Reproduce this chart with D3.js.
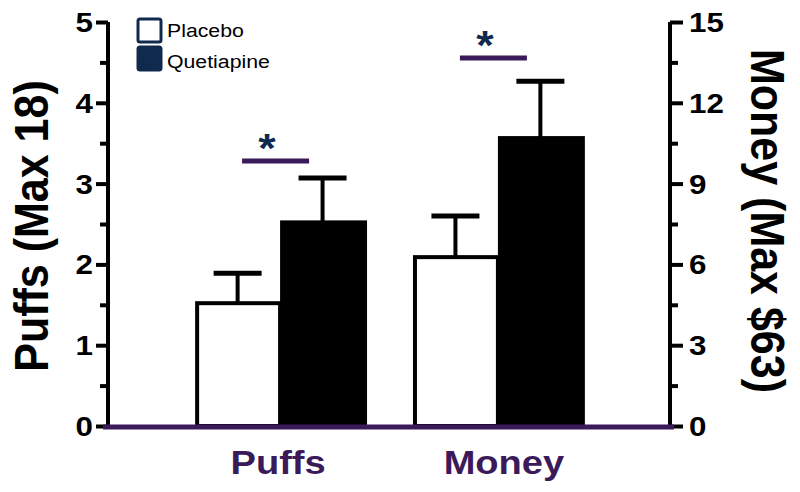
<!DOCTYPE html>
<html>
<head>
<meta charset="utf-8">
<script src="https://cdn.jsdelivr.net/npm/d3@7"></script>
<style>
  body { margin: 0; background: #fff; }
  svg { display: block; font-family: "Liberation Sans", Arial, sans-serif; }
</style>
</head>
<body>
<script>
// measures, Puffs on the left axis, Money on the right
var categories = ["Puffs", "Money"];
var groups = ["Placebo", "Quetiapine"];
var placeboMean = [1.52, 6.27];
var placeboUpper = [1.89, 7.8];
var quetiapineMean = [2.52, 10.69];
var quetiapineUpper = [3.07, 12.8];
// significance bars: height in the measure's own units
var sigLevel = [3.28, 13.66];
var leftTicks = [0, 1, 2, 3, 4, 5];
var rightTicks = [0, 3, 6, 9, 12, 15];

var W = 800, H = 492;
var purple = "#3b1a5a", navy = "#0f2a4c";
var stretch = 1.12; // the figure is a bit wider than tall

var svg = d3.select("body").append("svg").attr("width", W).attr("height", H);

var x0 = d3.scaleBand().domain(categories).range([108, 670]).paddingInner(0.22).paddingOuter(0.4);
var x1 = d3.scaleBand().domain(groups).range([0, x0.bandwidth()]);
var yL = d3.scaleLinear().domain([0, 5]).range([426, 22]);
var yR = d3.scaleLinear().domain([0, 15]).range([426, 22]);
function yFor(cat) { return cat === "Puffs" ? yL : yR; }

// text helper: wide glyphs like in the original
function label(txt, x, y, rot, size, opts) {
    opts = opts || {};
    var g = svg.append("g").attr("transform", "translate(" + x + "," + y + ") rotate(" + rot + ")");
    var sc = rot === 0 ? "scale(" + stretch + ",1)" : "scale(1," + stretch + ")";
    g.append("text").attr("transform", sc)
        .attr("text-anchor", opts.anchor || "middle")
        .attr("font-size", size)
        .attr("font-weight", opts.weight || "bold")
        .attr("fill", opts.fill || "#000")
        .text(txt);
}

// bars
var rows = [];
categories.forEach(function(c, i) {
    rows.push({cat: c, grp: "Placebo", mean: placeboMean[i], up: placeboUpper[i]});
    rows.push({cat: c, grp: "Quetiapine", mean: quetiapineMean[i], up: quetiapineUpper[i]});
});

var bw = x1.bandwidth();
// error bars (drawn first so bars cover the stem base)
rows.forEach(function(d) {
    var cx = x0(d.cat) + x1(d.grp) + bw / 2;
    var y = yFor(d.cat);
    svg.append("line").attr("x1", cx).attr("x2", cx).attr("y1", y(d.mean)).attr("y2", y(d.up))
        .attr("stroke", "#000").attr("stroke-width", 4);
    svg.append("line").attr("x1", cx - 24).attr("x2", cx + 24).attr("y1", y(d.up)).attr("y2", y(d.up))
        .attr("stroke", "#000").attr("stroke-width", 5);
});
rows.forEach(function(d) {
    var y = yFor(d.cat);
    svg.append("rect")
        .attr("x", x0(d.cat) + x1(d.grp) + 2)
        .attr("y", y(d.mean))
        .attr("width", bw - 2)
        .attr("height", y(0) - y(d.mean))
        .attr("fill", d.grp === "Placebo" ? "#fff" : "#000")
        .attr("stroke", "#000").attr("stroke-width", 4);
});

// left axis: long major ticks, short minor ones
var axL = svg.append("g").attr("transform", "translate(108,0)");
axL.call(d3.axisLeft(yL).tickValues(d3.range(0, 5.01, 0.5)).tickSize(8).tickFormat(""));
axL.selectAll(".tick line").attr("stroke-width", 4)
    .attr("x2", function(d) { return d % 1 === 0 ? -12 : -8; });
axL.select(".domain").attr("d", "M0," + yL(5) + "V" + yL(0)).attr("stroke-width", 4);
leftTicks.forEach(function(t) { label(t, 93, yL(t) + 10, 0, 28, {anchor: "end"}); });

// right axis
var axR = svg.append("g").attr("transform", "translate(670,0)");
axR.call(d3.axisRight(yR).tickValues(d3.range(0, 15.01, 1.5)).tickSize(8).tickFormat(""));
axR.selectAll(".tick line").attr("stroke-width", 4)
    .attr("x2", function(d) { return d % 3 === 0 ? 13 : 8; });
axR.select(".domain").attr("d", "M0," + yR(15) + "V" + yR(0)).attr("stroke-width", 4);
rightTicks.forEach(function(t) { label(t, 689, yR(t) + 10, 0, 28, {anchor: "start"}); });

// baseline
svg.append("line").attr("x1", 103).attr("x2", 674).attr("y1", yL(0) + 1).attr("y2", yL(0) + 1)
    .attr("stroke", purple).attr("stroke-width", 5);

// category labels
categories.forEach(function(c) {
    label(c, x0(c) + x0.bandwidth() / 2 + (c === "Money" ? 6 : -2), 474, 0, 34, {fill: purple});
});

// axis titles
label("Puffs (Max 18)", 48, 226, -90, 43);
label("Money (Max $63)", 751, 221, 90, 43);

// significance marks
categories.forEach(function(c, i) {
    var cx = x0(c) + x0.bandwidth() / 2;
    var y = yFor(c)(sigLevel[i]);
    svg.append("line").attr("x1", cx - 38).attr("x2", cx + 29).attr("y1", y).attr("y2", y)
        .attr("stroke", purple).attr("stroke-width", 5);
    label("*", cx - 13, y + 1, 0, 40, {fill: navy});
});

// legend
groups.forEach(function(g, i) {
    var ly = 18 + i * 28;
    svg.append("rect").attr("x", 138).attr("y", ly + 1).attr("width", 23).attr("height", 23).attr("rx", 2)
        .attr("fill", i === 0 ? "#fff" : navy).attr("stroke", navy).attr("stroke-width", 3);
    label(g, 167, ly + 19 + i * 3, 0, 19, {anchor: "start", weight: "normal"});
});
</script>
</body>
</html>
